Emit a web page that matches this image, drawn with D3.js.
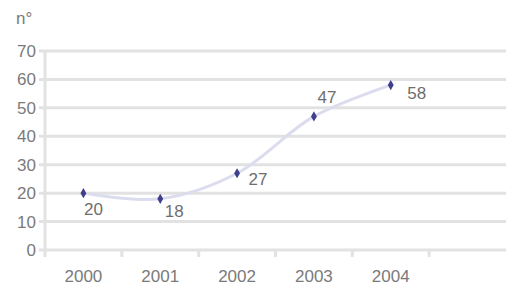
<!DOCTYPE html>
<html>
<head>
<meta charset="utf-8">
<script src="https://cdn.jsdelivr.net/npm/d3@7"></script>
<style>
  body { margin: 0; background: #fff; }
  svg { display: block; }
</style>
</head>
<body>
<svg id="chart"></svg>
<script>
// chart data
const years = ["2000", "2001", "2002", "2003", "2004"];
const values = [20, 18, 27, 47, 58];
const yTicks = [0, 10, 20, 30, 40, 50, 60, 70];
const yUnit = "n°";

const width = 509, height = 287;
const margin = { top: 51, right: 3, bottom: 37, left: 45 };
const font = "Liberation Sans, Arial, sans-serif";

const svg = d3.select("#chart")
  .attr("width", width)
  .attr("height", height);

// one empty slot after the last year, like the original
const slots = years.concat([" "]);

const x = d3.scaleBand()
  .domain(slots)
  .range([margin.left, width - margin.right]);

const y = d3.scaleLinear()
  .domain([0, 70])
  .range([height - margin.bottom, margin.top]);

const gridColor = "#e2e2e2";
const textColor = "#7a7a7a";

// horizontal gridlines (with small left ticks)
svg.append("g")
  .selectAll("line")
  .data(yTicks)
  .join("line")
  .attr("x1", margin.left - 6)
  .attr("x2", width - margin.right)
  .attr("y1", d => y(d))
  .attr("y2", d => y(d))
  .attr("stroke", gridColor)
  .attr("stroke-width", 3);

// vertical axis line
svg.append("line")
  .attr("x1", margin.left)
  .attr("x2", margin.left)
  .attr("y1", y(70))
  .attr("y2", y(0) + 7)
  .attr("stroke", gridColor)
  .attr("stroke-width", 3);

// category tick marks between slots
svg.append("g")
  .selectAll("line")
  .data(slots.slice(1))
  .join("line")
  .attr("x1", d => x(d))
  .attr("x2", d => x(d))
  .attr("y1", y(0))
  .attr("y2", y(0) + 7)
  .attr("stroke", gridColor)
  .attr("stroke-width", 3);

// y labels
svg.append("g")
  .selectAll("text")
  .data(yTicks)
  .join("text")
  .attr("x", 36)
  .attr("y", d => y(d))
  .attr("dy", "0.35em")
  .attr("text-anchor", "end")
  .style("font-family", font)
  .style("font-size", "17px")
  .style("fill", textColor)
  .text(d => d);

svg.append("text")
  .attr("x", 16)
  .attr("y", 24)
  .style("font-family", font)
  .style("font-size", "17px")
  .style("fill", textColor)
  .text(yUnit);

// x labels
svg.append("g")
  .selectAll("text")
  .data(years)
  .join("text")
  .attr("x", d => x(d) + x.bandwidth() / 2)
  .attr("y", 282)
  .attr("text-anchor", "middle")
  .style("font-family", font)
  .style("font-size", "17px")
  .style("fill", textColor)
  .text(d => d);

const pts = years.map((yr, i) => ({ yr, v: values[i] }));

// smooth line
const line = d3.line()
  .x(d => x(d.yr) + x.bandwidth() / 2)
  .y(d => y(d.v))
  .curve(d3.curveCatmullRom.alpha(0.5));

svg.append("path")
  .datum(pts)
  .attr("d", line)
  .attr("fill", "none")
  .attr("stroke", "#dcdcef")
  .attr("stroke-width", 3);

// markers
svg.append("g")
  .selectAll("path")
  .data(pts)
  .join("path")
  .attr("transform", d => `translate(${x(d.yr) + x.bandwidth() / 2},${y(d.v)})`)
  .attr("d", d3.symbol(d3.symbolDiamond, 30))
  .attr("fill", "#403f8c");

// value labels
const labelOffset = [[10, 16], [14, 12], [21, 6], [13, -19], [26, 8]];
svg.append("g")
  .selectAll("text")
  .data(pts)
  .join("text")
  .attr("x", (d, i) => x(d.yr) + x.bandwidth() / 2 + labelOffset[i][0])
  .attr("y", (d, i) => y(d.v) + labelOffset[i][1])
  .attr("dy", "0.35em")
  .attr("text-anchor", "middle")
  .style("font-family", font)
  .style("font-size", "17px")
  .style("fill", "#6e6e6e")
  .text(d => d.v);
</script>
</body>
</html>
